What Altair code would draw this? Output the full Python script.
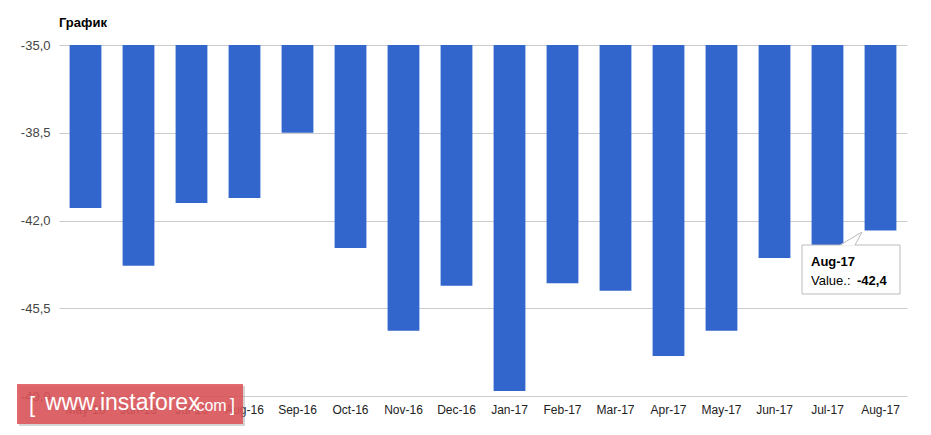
import altair as alt
import pandas as pd

months = ["May-16", "Jun-16", "Jul-16", "Aug-16", "Sep-16", "Oct-16", "Nov-16", "Dec-16",
          "Jan-17", "Feb-17", "Mar-17", "Apr-17", "May-17", "Jun-17", "Jul-17", "Aug-17"]
values = [-41.5, -43.8, -41.3, -41.1, -38.5, -43.1, -46.4, -44.6,
          -48.8, -44.5, -44.8, -47.4, -46.4, -43.5, -43.0, -42.4]
y_ticks = [-35.0, -38.5, -42.0, -45.5, -49.0]

df = pd.DataFrame({"month": months, "value": values})
one = pd.DataFrame({"k": [0]})

W, H = 848, 351
FONT = "Liberation Sans"

x_enc = alt.X("month:N", sort=months, title=None,
              scale=alt.Scale(paddingInner=0.4, paddingOuter=0.2),
              axis=alt.Axis(labelAngle=0, labelFontSize=12, labelColor="#222222",
                            labelFont=FONT, ticks=False, domain=False, labelPadding=8,
                            grid=False))
y_enc = alt.Y("value:Q", title=None,
              scale=alt.Scale(domain=[-49, -35], nice=False, zero=False),
              axis=alt.Axis(values=y_ticks, labelFontSize=13, labelColor="#444444",
                            labelFont=FONT, ticks=False, domain=False, labelPadding=9,
                            gridColor="#cccccc", gridWidth=1,
                            labelExpr="replace(replace(format(datum.value, '.1f'), '.', ','), '\u2212', '-')"))

bars = alt.Chart(df).mark_bar(color="#3366cc").encode(
    x=x_enc, y=y_enc, y2=alt.datum(-35)
)

base = alt.Chart(one)

# tooltip box for Aug-17
tip_box = base.mark_rect(fill="white", stroke="#bbbbbb", strokeWidth=1, clip=False).encode(
    x=alt.value(743), x2=alt.value(841), y=alt.value(200), y2=alt.value(249)
)
tip_tri = base.mark_point(
    shape="M -1 0.6 L 1 -0.6 L 0.36 0.6 Z", filled=True, fill="white", opacity=1,
    strokeWidth=0, size=484, clip=False
).encode(x=alt.value(792), y=alt.value(194))
tip_edge1 = base.mark_rule(color="#bbbbbb", strokeWidth=1).encode(
    x=alt.value(781), y=alt.value(200), x2=alt.value(803), y2=alt.value(187)
)
tip_edge2 = base.mark_rule(color="#bbbbbb", strokeWidth=1).encode(
    x=alt.value(796), y=alt.value(200), x2=alt.value(803), y2=alt.value(187)
)
tip_title = base.mark_text(
    text="Aug-17", font=FONT, fontSize=13, fontWeight="bold", color="#000000",
    align="left", baseline="middle"
).encode(x=alt.value(752), y=alt.value(217))
tip_label = base.mark_text(
    text="Value.:", font=FONT, fontSize=13, color="#000000", align="left", baseline="middle"
).encode(x=alt.value(752), y=alt.value(236))
tip_val = base.mark_text(
    text="-42,4", font=FONT, fontSize=13, fontWeight="bold", color="#000000",
    align="left", baseline="middle"
).encode(x=alt.value(798), y=alt.value(236))

# watermark
wm_shadow = base.mark_rect(fill="#888888", opacity=0.35, clip=False).encode(
    x=alt.value(-40), x2=alt.value(186), y=alt.value(341), y2=alt.value(381)
)
wm_box = base.mark_rect(fill="#dd5055", opacity=0.85, clip=False).encode(
    x=alt.value(-42), x2=alt.value(184), y=alt.value(339), y2=alt.value(379)
)
wm_l = base.mark_text(text="[", font=FONT, fontSize=22, color="white",
                      align="left", baseline="middle").encode(
    x=alt.value(-30), y=alt.value(360))
wm_main = base.mark_text(text="www.instaforex", font=FONT, fontSize=23, color="white",
                         align="left", baseline="middle").encode(
    x=alt.value(-14), y=alt.value(358))
wm_com = base.mark_text(text=".com", font=FONT, fontSize=16, color="white",
                        align="left", baseline="middle").encode(
    x=alt.value(133), y=alt.value(361))
wm_r = base.mark_text(text="]", font=FONT, fontSize=18, color="white",
                      align="left", baseline="middle").encode(
    x=alt.value(171), y=alt.value(361))

chart = alt.layer(
    bars, tip_box, tip_tri, tip_edge1, tip_edge2, tip_title, tip_label, tip_val,
    wm_shadow, wm_box, wm_l, wm_main, wm_com, wm_r
).properties(
    width=W, height=H,
    background="white",
    title=alt.TitleParams("График", anchor="start", frame="group", font=FONT, fontSize=13,
                          fontWeight="bold", color="#000000", offset=9),
    autosize=alt.AutoSizeParams(type="none"),
    padding={"left": 51, "top": 37, "right": 10, "bottom": 30},
).configure_view(stroke="transparent", strokeWidth=0).configure_axis(
    domain=False
)

chart.save("out.html", embed_options={"renderer": "svg", "actions": False})
